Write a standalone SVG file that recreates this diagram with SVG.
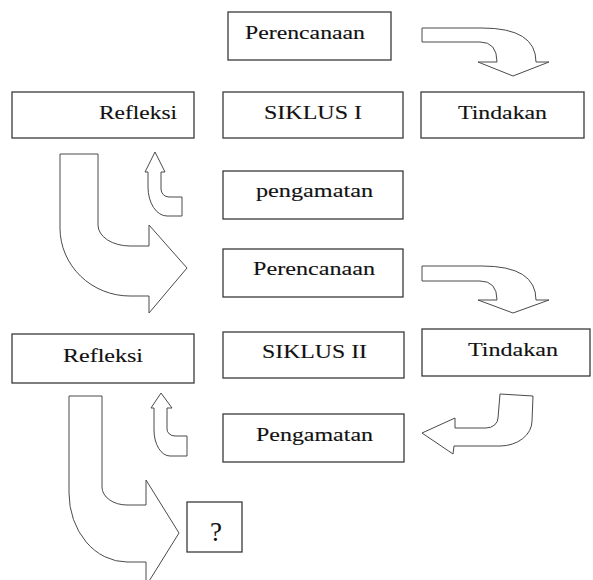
<svg xmlns="http://www.w3.org/2000/svg" width="593" height="580" viewBox="0 0 593 580">
<style>
.box{fill:#fff;stroke:#3a3a3a;stroke-width:1.3}
.t{font-family:"Liberation Serif","Times New Roman",serif;font-size:19.5px;fill:#111;stroke:#111;stroke-width:0.12}
.arr{fill:#fff;stroke:#4a4a4a;stroke-width:1}
</style>
<rect width="593" height="580" fill="#fff"/>
<g id="perencanaan1"><rect class="box" x="228" y="12" width="163" height="48"/><text class="t" x="245" y="39" textLength="120" lengthAdjust="spacingAndGlyphs">Perencanaan</text></g>
<g id="refleksi1"><rect class="box" x="12" y="92" width="182" height="46"/><text class="t" x="99" y="119" textLength="78" lengthAdjust="spacingAndGlyphs">Refleksi</text></g>
<g id="siklus1"><rect class="box" x="223" y="92" width="180" height="46"/><text class="t" x="264" y="119" textLength="98" lengthAdjust="spacingAndGlyphs">SIKLUS I</text></g>
<g id="tindakan1"><rect class="box" x="421" y="92" width="163" height="46"/><text class="t" x="458" y="119" textLength="89" lengthAdjust="spacingAndGlyphs">Tindakan</text></g>
<g id="pengamatan1"><rect class="box" x="223" y="171" width="180" height="48"/><text class="t" x="256" y="197" textLength="117" lengthAdjust="spacingAndGlyphs">pengamatan</text></g>
<g id="perencanaan2"><rect class="box" x="223" y="249" width="180" height="48"/><text class="t" x="253" y="275" textLength="122" lengthAdjust="spacingAndGlyphs">Perencanaan</text></g>
<g id="refleksi2"><rect class="box" x="12" y="334" width="182" height="49"/><text class="t" x="63" y="362" textLength="80" lengthAdjust="spacingAndGlyphs">Refleksi</text></g>
<g id="siklus2"><rect class="box" x="223" y="332" width="181" height="46"/><text class="t" x="262" y="358" textLength="105" lengthAdjust="spacingAndGlyphs">SIKLUS II</text></g>
<g id="tindakan2"><rect class="box" x="422" y="329" width="168" height="47"/><text class="t" x="468" y="356" textLength="90" lengthAdjust="spacingAndGlyphs">Tindakan</text></g>
<g id="pengamatan2"><rect class="box" x="223" y="414" width="181" height="48"/><text class="t" x="256" y="441" textLength="117" lengthAdjust="spacingAndGlyphs">Pengamatan</text></g>
<g id="tanya"><rect class="box" x="187" y="502" width="55" height="50"/><text class="t" x="216" y="541" style="font-size:27px;stroke-width:0" text-anchor="middle">?</text></g>
<g id="connectors">
<path class="arr" d="M422,28 H482 Q536,28 536,62 H549 L513,76 L478,62 H497 Q497,42 480,42 H422 Z"/>
<path class="arr" d="M422,266 H482 Q536,266 536,300 H549 L513,313 L478,300 H497 Q497,281 480,281 H422 Z"/>
<path class="arr" d="M60,154 H98 V225 A32,21 0 0 0 130,246 H149 V225 L187,268 L149,313 V296 H130 A70,68 0 0 1 60,228 Z"/>
<path class="arr" d="M69,396 H102 V487 A25,18 0 0 0 127,505 H146 V480 L179,533 L146,586 V562 H127 A58,69 0 0 1 69,493 Z"/>
<path class="arr" d="M155,152 L165,172 H161 V189 A8,8 0 0 0 169,197 H182 V216 H167 A19,29 0 0 1 148,187 V172 H145 Z"/>
<path class="arr" d="M161,393 L172,408 H167 V429 A8,7 0 0 0 175,436 H187 V456 H170 A16,26 0 0 1 154,430 V408 H151 Z"/>
<path class="arr" d="M500,394 L533,396 L532,421 A32,25 0 0 1 500,446 H454 L453,454 L422,433 L455,418 V428 H486 A12,10 0 0 0 498,418 Z"/>
</g>
</svg>
